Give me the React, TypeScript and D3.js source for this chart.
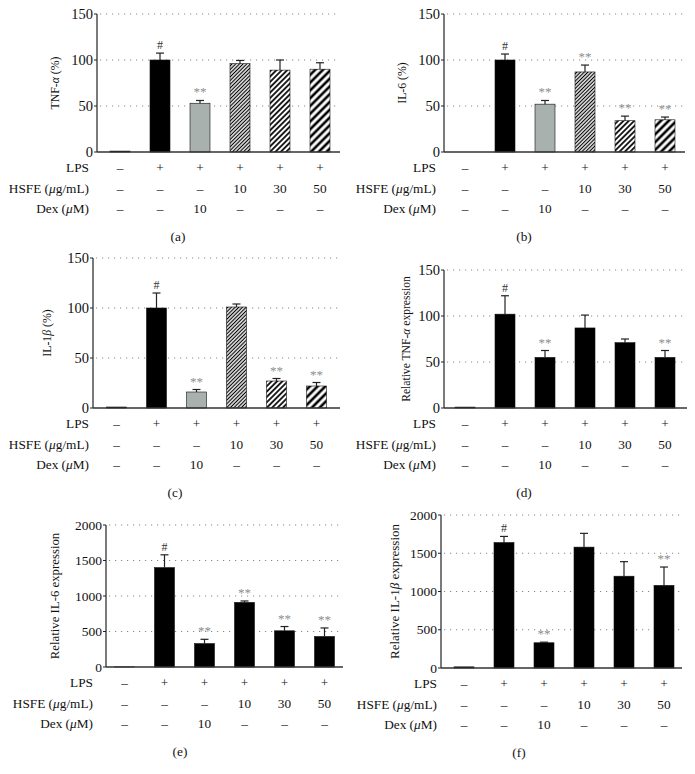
import React from "react";
import * as d3 from "d3";

// ---------- data ----------
const groups = ["G1", "G2", "G3", "G4", "G5", "G6"];
const lpsRow = ["–", "+", "+", "+", "+", "+"];
const hsfeRow = ["–", "–", "–", "10", "30", "50"];
const dexRow = ["–", "–", "10", "–", "–", "–"];
const rowLabels = ["LPS", "HSFE (μg/mL)", "Dex (μM)"];

const tnfPctValues = [1, 100, 53, 96, 89, 90];
const tnfPctErrors = [0, 7.5, 3, 3.5, 11, 7];
const tnfPctMarks = ["", "#", "**", "", "", ""];

const il6PctValues = [0, 100, 52, 87, 34, 35];
const il6PctErrors = [0, 6.5, 4, 7.5, 5, 3];
const il6PctMarks = ["", "#", "**", "**", "**", "**"];

const il1bPctValues = [1, 100, 16, 101, 27, 22];
const il1bPctErrors = [0, 15, 2.5, 3, 2.5, 3.5];
const il1bPctMarks = ["", "#", "**", "", "**", "**"];

const tnfRelValues = [1, 102, 55, 87, 71, 55];
const tnfRelErrors = [0, 20, 7.5, 14, 4, 7.5];
const tnfRelMarks = ["", "#", "**", "", "", "**"];

const il6RelValues = [2, 1400, 330, 910, 510, 430];
const il6RelErrors = [0, 180, 60, 20, 60, 120];
const il6RelMarks = ["", "#", "**", "**", "**", "**"];

const il1bRelValues = [15, 1640, 330, 1580, 1200, 1080];
const il1bRelErrors = [0, 80, 8, 180, 190, 240];
const il1bRelMarks = ["", "#", "**", "", "", "**"];

const pctTicks = [0, 50, 100, 150];
const relTicks = [0, 500, 1000, 1500, 2000];

const patternedFills = ["#000", "#000", "#a9b1ae", "url(#hatch1)", "url(#hatch2)", "url(#hatch3)"];
const solidFills = ["#000", "#000", "#000", "#000", "#000", "#000"];

// ---------- layout ----------
const FONT = "'Liberation Serif', 'DejaVu Serif', serif";

type PanelProps = {
  x0: number; x1: number; bandStart: number;
  yZero: number; yTop: number; yMax: number;
  ticks: number[]; values: number[]; errors: number[]; marks: string[];
  fills: string[]; yLabel: React.ReactNode; yLabelX: number; yLabelSize: number;
  tickSize: number;
  rowLabelX: number; panelLabel: string; panelLabelX: number;
};

function Panel(p: PanelProps) {
  const x = d3.scaleBand<string>().domain(groups)
    .range([p.x0 + p.bandStart, p.x0 + p.bandStart + 240])
    .paddingInner(0.5).paddingOuter(0.25);
  const y = d3.scaleLinear().domain([0, p.yMax]).range([p.yZero, p.yTop]);
  const bw = x.bandwidth();
  const rows = [lpsRow, hsfeRow, dexRow];
  const rowOffsets = [15, 36, 56];
  const yMid = (p.yZero + p.yTop) / 2;
  return (
    <g fontFamily={FONT}>
      {p.ticks.filter(t => t > 0).map(t => (
        <line key={"g" + t} x1={p.x0 + 3} x2={p.x1} y1={y(t)} y2={y(t)}
          stroke="#888" strokeWidth={1} strokeDasharray="1.2,4.8" />
      ))}
      {groups.map((g, i) => {
        const v = p.values[i];
        const h = p.yZero - y(v);
        return (
          <rect key={"b" + g} x={x(g)} y={y(v)} width={bw} height={Math.max(h, 0)}
            fill={p.fills[i]} stroke={v > 0 ? "#111" : "none"} strokeWidth={v > 0 ? 0.6 : 0} />
        );
      })}
      {groups.map((g, i) => {
        if (!p.errors[i]) return null;
        const cx = (x(g) as number) + bw / 2;
        const top = y(p.values[i] + p.errors[i]);
        return (
          <g key={"e" + g} stroke="#222" strokeWidth={1.2}>
            <line x1={cx} x2={cx} y1={y(p.values[i])} y2={top} />
            <line x1={cx - 4} x2={cx + 4} y1={top} y2={top} />
          </g>
        );
      })}
      {groups.map((g, i) => {
        const m = p.marks[i];
        if (!m) return null;
        const cx = (x(g) as number) + bw / 2;
        const top = y(p.values[i] + p.errors[i]);
        return (
          <text key={"m" + g} x={cx} y={top - 4} textAnchor="middle"
            fontSize={m === "#" ? 12 : 13} fill={m === "#" ? "#333" : "#8a8f8d"}>{m}</text>
        );
      })}
      <line x1={p.x0} x2={p.x0} y1={p.yTop} y2={p.yZero} stroke="#222" strokeWidth={1.2} />
      <line x1={p.x0} x2={p.x1} y1={p.yZero} y2={p.yZero} stroke="#333" strokeWidth={1.4} />
      {p.ticks.map(t => (
        <g key={"t" + t}>
          <line x1={p.x0 - 3} x2={p.x0} y1={y(t)} y2={y(t)} stroke="#222" strokeWidth={1} />
          <text x={p.x0 - 4} y={y(t)} dy="0.35em" textAnchor="end" fontSize={p.tickSize} fill="#111">{t}</text>
        </g>
      ))}
      <text transform={`translate(${p.yLabelX},${yMid}) rotate(-90)`} textAnchor="middle"
        dy="0.35em" fontSize={p.yLabelSize} fill="#111">{p.yLabel}</text>
      {rows.map((r, ri) => (
        <g key={"r" + ri}>
          <text x={p.rowLabelX} y={p.yZero + rowOffsets[ri]} dy="0.35em" textAnchor="end"
            fontSize={13.3} fill="#111">
            {ri === 0 ? rowLabels[0] : ri === 1
              ? <>HSFE (<tspan fontStyle="italic">μ</tspan>g/mL)</>
              : <>Dex (<tspan fontStyle="italic">μ</tspan>M)</>}
          </text>
          {groups.map((g, i) => (
            <text key={g} x={(x(g) as number) + bw / 2} y={p.yZero + rowOffsets[ri]} dy="0.35em"
              textAnchor="middle" fontSize={13.3} fill="#111">{r[i]}</text>
          ))}
        </g>
      ))}
      <text x={p.panelLabelX} y={p.yZero + 84} dy="0.35em" textAnchor="middle" fontSize={13.3} fill="#111">
        {p.panelLabel}
      </text>
    </g>
  );
}

function Hatch({ id, gap, sw }: { id: string; gap: number; sw: number }) {
  return (
    <pattern id={id} patternUnits="userSpaceOnUse" width={gap} height={gap}
      patternTransform="rotate(45)">
      <rect width={gap} height={gap} fill="#fff" />
      <line x1={gap / 2} x2={gap / 2} y1={0} y2={gap} stroke="#000" strokeWidth={sw} />
    </pattern>
  );
}

export default function App() {
  return (
    <svg width={695} height={774} style={{ position: "absolute", left: 0, top: 0, background: "#fff" }}>
      <defs>
        <Hatch id="hatch1" gap={2.6} sw={1.2} />
        <Hatch id="hatch2" gap={3.8} sw={1.7} />
        <Hatch id="hatch3" gap={5.5} sw={2.6} />
      </defs>
      <rect width={695} height={774} fill="#fff" />
      <Panel x0={97} x1={340} bandStart={3} yZero={152} yTop={14} yMax={150} ticks={pctTicks}
        values={tnfPctValues} errors={tnfPctErrors} marks={tnfPctMarks} fills={patternedFills}
        yLabel={<>TNF-<tspan fontStyle="italic">α</tspan> (%)</>} yLabelX={55} yLabelSize={11.8}
        tickSize={14.5} rowLabelX={89} panelLabel="(a)" panelLabelX={178} />
      <Panel x0={444} x1={685} bandStart={1} yZero={152} yTop={14} yMax={150} ticks={pctTicks}
        values={il6PctValues} errors={il6PctErrors} marks={il6PctMarks} fills={patternedFills}
        yLabel="IL-6 (%)" yLabelX={402} yLabelSize={11.8}
        tickSize={14.5} rowLabelX={436} panelLabel="(b)" panelLabelX={524} />
      <Panel x0={93} x1={340} bandStart={3.5} yZero={408} yTop={258} yMax={150} ticks={pctTicks}
        values={il1bPctValues} errors={il1bPctErrors} marks={il1bPctMarks} fills={patternedFills}
        yLabel={<>IL-1<tspan fontStyle="italic">β</tspan> (%)</>} yLabelX={47} yLabelSize={11.8}
        tickSize={14.5} rowLabelX={89} panelLabel="(c)" panelLabelX={175} />
      <Panel x0={444} x1={687} bandStart={1} yZero={408} yTop={270} yMax={150} ticks={pctTicks}
        values={tnfRelValues} errors={tnfRelErrors} marks={tnfRelMarks} fills={solidFills}
        yLabel={<>Relative TNF-<tspan fontStyle="italic">α</tspan> expression</>} yLabelX={406} yLabelSize={11.6}
        tickSize={14.5} rowLabelX={436} panelLabel="(d)" panelLabelX={524} />
      <Panel x0={106} x1={343} bandStart={-1.5} yZero={667} yTop={525} yMax={2000} ticks={relTicks}
        values={il6RelValues} errors={il6RelErrors} marks={il6RelMarks} fills={solidFills}
        yLabel="Relative IL-6 expression" yLabelX={55} yLabelSize={12.8}
        tickSize={13.5} rowLabelX={93} panelLabel="(e)" panelLabelX={180} />
      <Panel x0={441} x1={682} bandStart={3} yZero={668} yTop={515} yMax={2000} ticks={relTicks}
        values={il1bRelValues} errors={il1bRelErrors} marks={il1bRelMarks} fills={solidFills}
        yLabel={<>Relative IL-1<tspan fontStyle="italic">β</tspan> expression</>} yLabelX={394} yLabelSize={13}
        tickSize={13.5} rowLabelX={437} panelLabel="(f)" panelLabelX={519} />
    </svg>
  );
}
